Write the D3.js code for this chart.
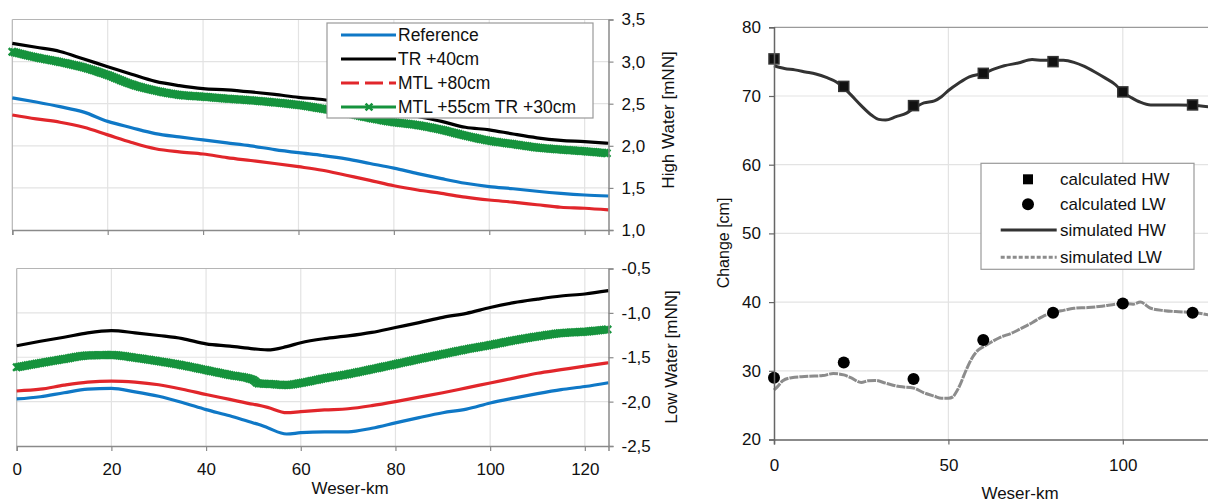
<!DOCTYPE html>
<html>
<head>
<meta charset="utf-8">
<script src="https://cdn.jsdelivr.net/npm/d3@7"></script>
<style>
  body { margin: 0; background: #fff; }
  text { font-family: "Liberation Sans", Arial, sans-serif; fill: #111; }
</style>
</head>
<body>
<svg id="chart" width="1208" height="504"></svg>
<script>
// ---- data: high water (top left) ----
var kmHW = [0, 5, 10, 15, 20, 25, 30, 35, 40, 45, 50, 55, 60, 65, 70, 75, 80, 85, 90, 95, 100, 105, 110, 115, 120, 125];
var hwReference = [2.57, 2.52, 2.465, 2.40, 2.29, 2.215, 2.145, 2.105, 2.07, 2.035, 2.00, 1.955, 1.918, 1.885, 1.845, 1.79, 1.735, 1.67, 1.61, 1.555, 1.515, 1.49, 1.46, 1.435, 1.416, 1.404];
var hwTR40 = [3.217, 3.17, 3.12, 3.03, 2.94, 2.85, 2.765, 2.715, 2.68, 2.665, 2.64, 2.61, 2.576, 2.55, 2.51, 2.46, 2.41, 2.35, 2.29, 2.22, 2.19, 2.14, 2.095, 2.065, 2.05, 2.03];
var hwMTL80 = [2.366, 2.32, 2.28, 2.22, 2.13, 2.04, 1.965, 1.928, 1.903, 1.86, 1.825, 1.79, 1.752, 1.71, 1.65, 1.59, 1.525, 1.475, 1.435, 1.39, 1.356, 1.33, 1.30, 1.27, 1.258, 1.238];
var hwMTL55TR30 = [3.117, 3.05, 2.995, 2.93, 2.84, 2.73, 2.655, 2.605, 2.583, 2.56, 2.54, 2.515, 2.485, 2.44, 2.39, 2.33, 2.28, 2.245, 2.19, 2.12, 2.06, 2.02, 1.98, 1.955, 1.935, 1.91];

// ---- data: low water (bottom left) ----
var kmLW = [0, 5, 10, 15, 20, 25, 30, 35, 40, 45, 50, 51, 53, 57, 60, 65, 70, 75, 80, 85, 90, 95, 100, 105, 110, 115, 120, 125];
var lwReference = [-1.97, -1.945, -1.90, -1.86, -1.85, -1.89, -1.94, -2.01, -2.09, -2.16, -2.24, -2.255, -2.295, -2.365, -2.35, -2.34, -2.34, -2.30, -2.24, -2.18, -2.125, -2.085, -2.015, -1.96, -1.91, -1.865, -1.83, -1.787];
var lwTR40 = [-1.37, -1.32, -1.275, -1.225, -1.20, -1.225, -1.255, -1.29, -1.35, -1.375, -1.405, -1.41, -1.418, -1.38, -1.336, -1.29, -1.26, -1.22, -1.165, -1.11, -1.05, -1.005, -0.94, -0.885, -0.845, -0.81, -0.787, -0.75];
var lwMTL80 = [-1.88, -1.86, -1.815, -1.78, -1.768, -1.78, -1.81, -1.86, -1.92, -1.975, -2.03, -2.04, -2.065, -2.125, -2.113, -2.094, -2.08, -2.045, -2.00, -1.95, -1.90, -1.845, -1.79, -1.735, -1.68, -1.64, -1.60, -1.562];
var lwMTL55TR30 = [-1.613, -1.565, -1.52, -1.48, -1.475, -1.505, -1.545, -1.59, -1.645, -1.70, -1.756, -1.795, -1.80, -1.813, -1.79, -1.737, -1.69, -1.635, -1.578, -1.52, -1.465, -1.41, -1.362, -1.31, -1.265, -1.228, -1.212, -1.185];

var seriesNames = ["Reference", "TR +40cm", "MTL +80cm", "MTL +55cm TR +30cm"];
var hwTicks = [1.0, 1.5, 2.0, 2.5, 3.0, 3.5];
var lwTicks = [-2.5, -2.0, -1.5, -1.0, -0.5];
var kmTicksLeft = [0, 20, 40, 60, 80, 100, 120];

// ---- data: change (right) ----
var calcKm = [0, 20, 40, 60, 80, 100, 120];
var calcHW = [75.4, 71.4, 68.6, 73.3, 75.0, 70.6, 68.7];
var calcLW = [29.0, 31.2, 28.8, 34.5, 38.45, 39.8, 38.45];

var simKmHW = [0, 3, 6, 9, 12, 15, 18, 20, 22, 25, 28, 30, 32, 35, 38, 40, 43, 46, 48, 50, 53, 56, 60, 63, 66, 70, 74, 77, 80, 83, 86, 89, 92, 95, 98, 100, 102, 105, 108, 112, 116, 120, 125];
var simHW = [74.4, 74.0, 73.8, 73.5, 73.2, 72.7, 72.0, 71.2, 70.2, 68.6, 67.2, 66.6, 66.5, 67.0, 67.5, 68.2, 69.0, 69.3, 69.9, 70.8, 71.9, 72.8, 73.3, 73.9, 74.4, 74.8, 75.3, 75.2, 75.2, 75.2, 74.9, 74.3, 73.5, 72.6, 71.6, 70.5, 69.9, 69.1, 68.7, 68.7, 68.7, 68.65, 68.4];

var simKmLW = [0, 1, 2.5, 5, 10, 14, 17, 20, 22, 25, 27, 29, 32, 36, 40, 43, 46, 48, 50, 51.3, 52, 53.3, 54.5, 55.7, 57, 58.5, 60, 62, 65, 68, 71, 74, 77, 80, 83, 86, 90, 94, 98, 100, 103, 105, 108, 112, 116, 120, 125];
var simLW = [27.2, 27.7, 28.55, 29.0, 29.2, 29.3, 29.6, 29.4, 29.0, 28.3, 28.55, 28.6, 28.2, 27.7, 27.5, 26.8, 26.3, 26.0, 26.0, 26.2, 26.7, 27.9, 29.4, 30.8, 32.05, 33.0, 33.5, 34.1, 34.9, 35.45, 36.2, 37.0, 37.9, 38.45, 38.8, 39.1, 39.2, 39.4, 39.7, 39.8, 39.7, 40.0, 39.1, 38.75, 38.6, 38.5, 38.1];

var changeTicks = [20, 30, 40, 50, 60, 70, 80];
var kmTicksRight = [0, 50, 100];
var rightLegend = ["calculated HW", "calculated LW", "simulated HW", "simulated LW"];

// ---- styling ----
var colors = ["#0f78c6", "#000000", "#e1262b", "#16933d"];
var gridColor = "#e3e3e3";
var axisColor = "#8a8a8a";
var fontSize = 17;

var svg = d3.select("#chart");
svg.append("rect").attr("width", 1208).attr("height", 504).attr("fill", "#fff");

var commaFmt = d => d.toFixed(1).replace(".", ",");

function zip(xs, ys) { return xs.map((x, i) => ({x: x, y: ys[i]})); }

function styleAxis(g) {
  g.selectAll("path.domain").attr("stroke", axisColor).attr("stroke-width", 1.5);
  g.selectAll(".tick line").attr("stroke", axisColor).attr("stroke-width", 1.2);
  g.selectAll(".tick text").attr("fill", "#111").style("font-size", fontSize + "px")
    .style("font-family", '"Liberation Sans", Arial, sans-serif');
}

function crossMarkers(g, pathNode, color, step) {
  var len = pathNode.getTotalLength();
  var s = 3.6;
  for (var l = 0; l <= len; l += step) {
    var p = pathNode.getPointAtLength(l);
    g.append("path")
      .attr("d", `M${p.x - s},${p.y - s}L${p.x + s},${p.y + s}M${p.x - s},${p.y + s}L${p.x + s},${p.y - s}`)
      .attr("stroke", color).attr("stroke-width", 2.4).attr("fill", "none");
  }
}

/* left panel: one water level chart */
function waterPanel(opts) {
  var x = d3.scaleLinear().domain([0, 125]).range(opts.xRange);
  var y = d3.scaleLinear().domain(opts.yDomain).range(opts.yRange);
  var g = svg.append("g");

  // grid
  g.selectAll(".hgrid").data(opts.yTicks.slice(1, -1)).enter().append("line")
    .attr("x1", x(0)).attr("x2", x(125)).attr("y1", d => y(d)).attr("y2", d => y(d))
    .attr("stroke", gridColor).attr("stroke-width", 1.2);
  g.selectAll(".vgrid").data(kmTicksLeft.slice(1)).enter().append("line")
    .attr("x1", d => x(d)).attr("x2", d => x(d)).attr("y1", y.range()[0]).attr("y2", y.range()[1])
    .attr("stroke", gridColor).attr("stroke-width", 1.2);

  // border top / left
  g.append("line").attr("x1", x(0)).attr("x2", x(125)).attr("y1", y.range()[1]).attr("y2", y.range()[1])
    .attr("stroke", "#b5b5b5").attr("stroke-width", 1.2);
  g.append("line").attr("x1", x(0)).attr("x2", x(0)).attr("y1", y.range()[0]).attr("y2", y.range()[1])
    .attr("stroke", "#b5b5b5").attr("stroke-width", 1.2);

  // lines
  var line = d3.line().x(d => x(d.x)).y(d => y(d.y)).curve(d3.curveMonotoneX);
  opts.series.forEach(function(vals, i) {
    var p = g.append("path")
      .attr("d", line(zip(opts.km, vals)))
      .attr("fill", "none")
      .attr("stroke", colors[i])
      .attr("stroke-width", i == 3 ? 3 : 3.2)
      .attr("stroke-linejoin", "round");
    if (i == 3) crossMarkers(g, p.node(), colors[i], 2.2);
  });

  // axes
  var xAxis = d3.axisBottom(x).tickValues(kmTicksLeft).tickSize(5).tickPadding(12);
  if (!opts.xLabels) xAxis.tickFormat("");
  g.append("g").attr("transform", `translate(0,${y.range()[0]})`).call(xAxis).call(styleAxis);

  g.append("g").attr("transform", `translate(${x(125)},0)`)
    .call(d3.axisRight(y).tickValues(opts.yTicks).tickFormat(commaFmt).tickSize(5).tickPadding(8))
    .call(styleAxis);

  g.append("text")
    .attr("transform", `translate(${opts.titleX},${opts.titleY}) rotate(-90)`)
    .attr("text-anchor", "middle").attr("dy", "0.35em")
    .style("font-size", fontSize + "px").text(opts.title);
  return {x: x, y: y, g: g};
}

var top = waterPanel({
  km: kmHW, series: [hwReference, hwTR40, hwMTL80, hwMTL55TR30],
  xRange: [12.3, 608.5], yDomain: [1.0, 3.5], yRange: [230, 19.5], yTicks: hwTicks,
  xLabels: false, title: "High Water [mNN]", titleX: 668, titleY: 120
});

var bottom = waterPanel({
  km: kmLW, series: [lwReference, lwTR40, lwMTL80, lwMTL55TR30],
  xRange: [16.7, 608.5], yDomain: [-2.5, -0.5], yRange: [446, 268.5], yTicks: lwTicks,
  xLabels: true, title: "Low Water [mNN]", titleX: 671, titleY: 357
});

svg.append("text").attr("x", 350).attr("y", 488).attr("text-anchor", "middle").attr("dy", "0.35em")
  .style("font-size", fontSize + "px").text("Weser-km");

// left legend
var lg = svg.append("g");
lg.append("rect").attr("x", 327).attr("y", 23).attr("width", 266).attr("height", 95)
  .attr("fill", "#fff").attr("stroke", "#9a9a9a").attr("stroke-width", 1.2);
seriesNames.forEach(function(name, i) {
  var yy = 35 + i * 24;
  lg.append("line").attr("x1", 341).attr("x2", 396).attr("y1", yy).attr("y2", yy)
    .attr("stroke", colors[i]).attr("stroke-width", 3.2)
    .attr("stroke-dasharray", i == 2 ? "18,6" : null);
  if (i == 3) {
    var s = 3.4, cx = 369;
    lg.append("path").attr("d", `M${cx - s},${yy - s}L${cx + s},${yy + s}M${cx - s},${yy + s}L${cx + s},${yy - s}`)
      .attr("stroke", colors[3]).attr("stroke-width", 2.6);
  }
  lg.append("text").attr("x", 398).attr("y", yy).attr("dy", "0.35em")
    .style("font-size", "17.5px").text(name);
});

/* right panel: change */
var xR = d3.scaleLinear().domain([0, 125]).range([774, 1210]);
var yR = d3.scaleLinear().domain([20, 80]).range([439.5, 27.3]);
var rg = svg.append("g");

rg.selectAll(".hgrid").data(changeTicks.slice(1, -1)).enter().append("line")
  .attr("x1", xR(0)).attr("x2", xR(125)).attr("y1", d => yR(d)).attr("y2", d => yR(d))
  .attr("stroke", gridColor).attr("stroke-width", 1.2);
rg.selectAll(".vgrid").data(kmTicksRight.slice(1)).enter().append("line")
  .attr("x1", d => xR(d)).attr("x2", d => xR(d)).attr("y1", yR(20)).attr("y2", yR(80))
  .attr("stroke", gridColor).attr("stroke-width", 1.2);
rg.append("line").attr("x1", xR(0)).attr("x2", xR(125)).attr("y1", yR(80)).attr("y2", yR(80))
  .attr("stroke", "#9a9a9a").attr("stroke-width", 1.2);

var lineR = d3.line().x(d => xR(d.x)).y(d => yR(d.y)).curve(d3.curveMonotoneX);
rg.append("path").attr("d", lineR(zip(simKmLW, simLW)))
  .attr("fill", "none").attr("stroke", "#8c8c8c").attr("stroke-width", 3)
  .attr("stroke-dasharray", "9,1");
rg.append("path").attr("d", lineR(zip(simKmHW, simHW)))
  .attr("fill", "none").attr("stroke", "#333").attr("stroke-width", 3);

rg.selectAll(".sq").data(zip(calcKm, calcHW)).enter().append("rect")
  .attr("x", d => xR(d.x) - 5).attr("y", d => yR(d.y) - 5).attr("width", 10).attr("height", 10)
  .attr("fill", "#111").attr("stroke", "#333").attr("stroke-width", 1.5);
rg.selectAll(".dot").data(zip(calcKm, calcLW)).enter().append("circle")
  .attr("cx", d => xR(d.x)).attr("cy", d => yR(d.y)).attr("r", 6).attr("fill", "#000");

rg.append("g").attr("transform", `translate(0,${yR(20)})`)
  .call(d3.axisBottom(xR).tickValues(kmTicksRight).tickSize(5).tickPadding(14))
  .call(styleAxis)
  .call(g => g.selectAll("path.domain, .tick line").attr("stroke", "#666"));
rg.append("g").attr("transform", `translate(${xR(0)},0)`)
  .call(d3.axisLeft(yR).tickValues(changeTicks).tickSize(5).tickPadding(8))
  .call(styleAxis)
  .call(g => g.selectAll("path.domain, .tick line").attr("stroke", "#666"));

rg.append("text").attr("transform", "translate(723,243) rotate(-90)")
  .attr("text-anchor", "middle").attr("dy", "0.35em")
  .style("font-size", "16px").text("Change [cm]");
rg.append("text").attr("x", 1020).attr("y", 493).attr("text-anchor", "middle").attr("dy", "0.35em")
  .style("font-size", fontSize + "px").text("Weser-km");

// right legend
var rl = svg.append("g");
rl.append("rect").attr("x", 981).attr("y", 163.3).attr("width", 213).attr("height", 106)
  .attr("fill", "#fff").attr("stroke", "#9a9a9a").attr("stroke-width", 1.2);
var rly = [179.3, 204.3, 230, 257.3];
rl.append("rect").attr("x", 1028 - 5).attr("y", rly[0] - 5).attr("width", 10).attr("height", 10).attr("fill", "#000");
rl.append("circle").attr("cx", 1028).attr("cy", rly[1]).attr("r", 6).attr("fill", "#000");
rl.append("line").attr("x1", 1000.7).attr("x2", 1056.7).attr("y1", rly[2]).attr("y2", rly[2])
  .attr("stroke", "#333").attr("stroke-width", 3);
rl.append("line").attr("x1", 1000.7).attr("x2", 1056.7).attr("y1", rly[3]).attr("y2", rly[3])
  .attr("stroke", "#8c8c8c").attr("stroke-width", 3).attr("stroke-dasharray", "4,2");
rightLegend.forEach(function(name, i) {
  rl.append("text").attr("x", 1060).attr("y", rly[i]).attr("dy", "0.35em")
    .style("font-size", fontSize + "px").text(name);
});
</script>
</body>
</html>
